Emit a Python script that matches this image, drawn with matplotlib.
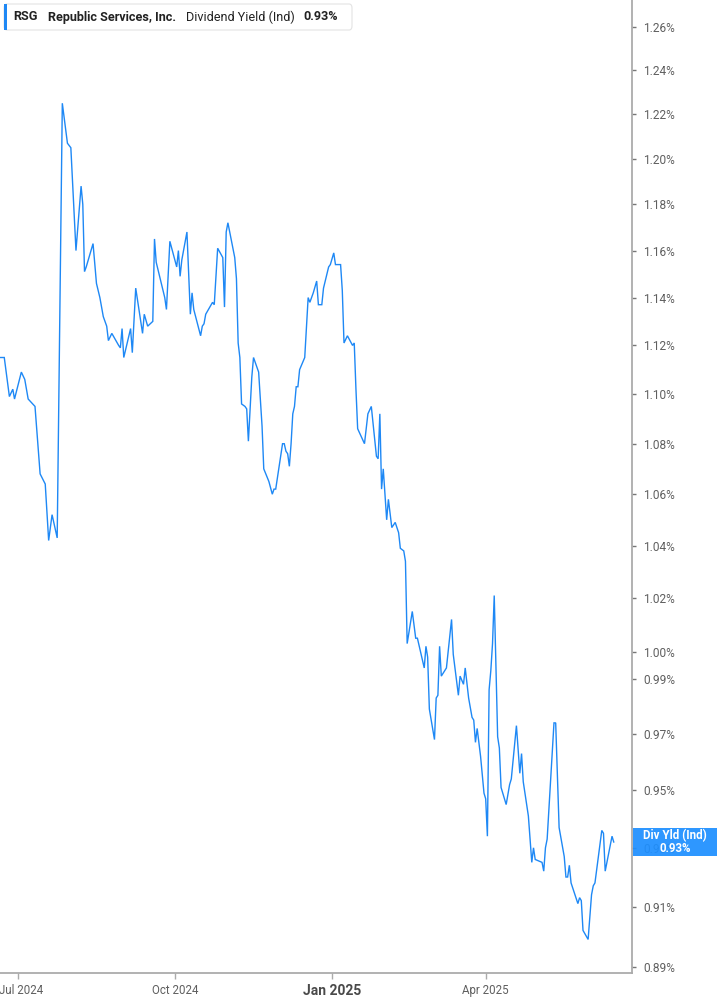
"""RSG dividend yield (indicated) line chart, trailing year."""

import numpy as np
import pandas as pd
import matplotlib

matplotlib.use("Agg")
import matplotlib.pyplot as plt
import matplotlib.dates as mdates
import matplotlib.transforms as mtransforms
from matplotlib.patches import FancyBboxPatch, Rectangle
from matplotlib.ticker import FixedLocator, FixedFormatter, NullLocator

BLUE = "#1E88F5"
BOX_BLUE = "#1E8FFF"
SPINE = "#ABABAB"
TICK_TXT = "#5F5F5F"

dates = [
    "2024-06-20", "2024-06-23", "2024-06-26", "2024-06-28", "2024-06-29", "2024-07-03", "2024-07-05", "2024-07-07", "2024-07-11", "2024-07-14",
    "2024-07-17", "2024-07-19", "2024-07-21", "2024-07-24", "2024-07-27", "2024-07-30", "2024-08-01", "2024-08-04", "2024-08-07", "2024-08-08",
    "2024-08-09", "2024-08-10", "2024-08-14", "2024-08-16", "2024-08-18", "2024-08-20", "2024-08-22", "2024-08-23", "2024-08-25", "2024-08-29",
    "2024-08-30", "2024-08-31", "2024-09-01", "2024-09-05", "2024-09-06", "2024-09-08", "2024-09-12", "2024-09-13", "2024-09-15", "2024-09-18",
    "2024-09-19", "2024-09-20", "2024-09-25", "2024-09-26", "2024-09-28", "2024-10-02", "2024-10-03", "2024-10-04", "2024-10-05", "2024-10-08",
    "2024-10-10", "2024-10-11", "2024-10-12", "2024-10-16", "2024-10-17", "2024-10-18", "2024-10-19", "2024-10-23", "2024-10-24", "2024-10-26",
    "2024-10-29", "2024-10-30", "2024-10-31", "2024-11-01", "2024-11-05", "2024-11-06", "2024-11-07", "2024-11-08", "2024-11-09", "2024-11-11",
    "2024-11-12", "2024-11-13", "2024-11-15", "2024-11-16", "2024-11-19", "2024-11-21", "2024-11-22", "2024-11-25", "2024-11-27", "2024-11-28",
    "2024-11-29", "2024-12-03", "2024-12-04", "2024-12-05", "2024-12-06", "2024-12-07", "2024-12-08", "2024-12-09", "2024-12-10", "2024-12-11",
    "2024-12-12", "2024-12-13", "2024-12-16", "2024-12-18", "2024-12-19", "2024-12-21", "2024-12-23", "2024-12-24", "2024-12-26", "2024-12-27",
    "2024-12-30", "2024-12-31", "2025-01-02", "2025-01-03", "2025-01-06", "2025-01-07", "2025-01-08", "2025-01-10", "2025-01-13", "2025-01-14",
    "2025-01-15", "2025-01-16", "2025-01-20", "2025-01-22", "2025-01-24", "2025-01-27", "2025-01-28", "2025-01-29", "2025-01-30", "2025-01-31",
    "2025-02-02", "2025-02-03", "2025-02-05", "2025-02-07", "2025-02-09", "2025-02-10", "2025-02-12", "2025-02-13", "2025-02-14", "2025-02-17",
    "2025-02-19", "2025-02-20", "2025-02-24", "2025-02-25", "2025-02-26", "2025-02-27", "2025-03-02", "2025-03-03", "2025-03-04", "2025-03-05",
    "2025-03-06", "2025-03-09", "2025-03-12", "2025-03-13", "2025-03-16", "2025-03-17", "2025-03-19", "2025-03-20", "2025-03-22", "2025-03-24",
    "2025-03-25", "2025-03-26", "2025-03-27", "2025-03-29", "2025-03-31", "2025-04-01", "2025-04-02", "2025-04-03", "2025-04-04", "2025-04-05",
    "2025-04-06", "2025-04-08", "2025-04-09", "2025-04-10", "2025-04-13", "2025-04-15", "2025-04-16", "2025-04-19", "2025-04-21", "2025-04-22",
    "2025-04-23", "2025-04-26", "2025-04-28", "2025-04-29", "2025-04-30", "2025-05-04", "2025-05-05", "2025-05-06", "2025-05-07", "2025-05-11",
    "2025-05-12", "2025-05-14", "2025-05-17", "2025-05-18", "2025-05-19", "2025-05-20", "2025-05-21", "2025-05-25", "2025-05-26", "2025-05-27",
    "2025-05-28", "2025-05-31", "2025-06-02", "2025-06-03", "2025-06-04", "2025-06-08", "2025-06-09", "2025-06-10", "2025-06-14", "2025-06-15",
]

div_yield = [
    1.115, 1.115, 1.099, 1.102, 1.098, 1.109, 1.106, 1.098, 1.095, 1.068,
    1.064, 1.042, 1.052, 1.043, 1.225, 1.207, 1.205, 1.160, 1.188, 1.180,
    1.151, 1.153, 1.163, 1.146, 1.140, 1.132, 1.128, 1.122, 1.125, 1.120,
    1.119, 1.127, 1.115, 1.127, 1.117, 1.144, 1.125, 1.133, 1.128, 1.130,
    1.165, 1.155, 1.140, 1.135, 1.164, 1.153, 1.160, 1.149, 1.156, 1.168,
    1.133, 1.142, 1.135, 1.124, 1.128, 1.129, 1.133, 1.138, 1.137, 1.161,
    1.157, 1.136, 1.168, 1.172, 1.157, 1.148, 1.121, 1.115, 1.096, 1.095,
    1.094, 1.081, 1.107, 1.115, 1.109, 1.087, 1.070, 1.065, 1.060, 1.062,
    1.062, 1.080, 1.080, 1.077, 1.076, 1.071, 1.080, 1.092, 1.095, 1.103,
    1.103, 1.110, 1.115, 1.140, 1.138, 1.142, 1.147, 1.137, 1.137, 1.144,
    1.153, 1.154, 1.159, 1.154, 1.154, 1.143, 1.121, 1.124, 1.120, 1.121,
    1.102, 1.086, 1.080, 1.092, 1.095, 1.075, 1.074, 1.092, 1.062, 1.070,
    1.050, 1.058, 1.047, 1.049, 1.045, 1.039, 1.038, 1.034, 1.003, 1.015,
    1.005, 1.005, 0.994, 1.002, 0.998, 0.979, 0.968, 0.983, 0.984, 1.002,
    0.991, 0.994, 1.012, 0.999, 0.984, 0.991, 0.988, 0.994, 0.983, 0.976,
    0.975, 0.967, 0.972, 0.962, 0.949, 0.947, 0.934, 0.986, 0.993, 1.003,
    1.021, 0.969, 0.965, 0.951, 0.945, 0.952, 0.954, 0.973, 0.956, 0.963,
    0.953, 0.941, 0.925, 0.930, 0.926, 0.925, 0.922, 0.930, 0.933, 0.974,
    0.974, 0.937, 0.927, 0.920, 0.920, 0.924, 0.918, 0.911, 0.913, 0.912,
    0.902, 0.899, 0.914, 0.917, 0.918, 0.936, 0.935, 0.922, 0.934, 0.932,
]

ytick_vals = [1.26, 1.24, 1.22, 1.20, 1.18, 1.16, 1.14, 1.12, 1.10, 1.08, 1.06, 1.04, 1.02,
              1.00, 0.99, 0.97, 0.95, 0.93, 0.91, 0.89]
xtick_dates = ["2024-07-01", "2024-10-01", "2025-01-01", "2025-04-01"]
xtick_labels = ["Jul 2024", "Oct 2024", "Jan 2025", "Apr 2025"]

W, H = 717, 1005
fig = plt.figure(figsize=(W / 100, H / 100), dpi=100)
ax = fig.add_axes([0, 1 - 973 / H, 632 / W, 973 / H])

s = pd.Series(div_yield, index=pd.to_datetime(dates))
ax.plot(s.index, s.values, color=BLUE, lw=1.0, solid_joinstyle="miter")

ax.set_yscale("log")
ax.set_ylim(0.8879, 1.2727)
start = pd.Timestamp("2024-07-01")
ax.set_xlim(start - pd.Timedelta(days=10.5), start + pd.Timedelta(days=359.7))

ax.yaxis.tick_right()
ax.yaxis.set_major_locator(FixedLocator(ytick_vals))
ax.yaxis.set_major_formatter(FixedFormatter([f"{v:.2f}%" for v in ytick_vals]))
ax.yaxis.set_minor_locator(NullLocator())
ax.tick_params(axis="y", direction="out", length=3, width=1, color="#777777",
               labelsize=8.6, labelcolor=TICK_TXT, pad=5)
for lab in ax.get_yticklabels():
    lab.set_family(["Roboto", "DejaVu Sans"])

ax.set_xticks(pd.to_datetime(xtick_dates))
ax.set_xticklabels(xtick_labels)
ax.tick_params(axis="x", direction="out", length=4, width=1, color=SPINE,
               labelsize=8.3, labelcolor=TICK_TXT, pad=4)
nudge = mtransforms.ScaledTranslation(2 / 72, 0, fig.dpi_scale_trans)
for lab in ax.get_xticklabels():
    lab.set_family(["Liberation Sans Narrow", "Roboto"])
    if lab.get_text() == "Jul 2024":
        lab.set_transform(lab.get_transform() + nudge)
    if lab.get_text() == "Jan 2025":
        lab.set_fontweight("bold")
        lab.set_fontsize(10)
        lab.set_color("#4A4A4A")

for side in ["top", "left"]:
    ax.spines[side].set_visible(False)
for side in ["right", "bottom"]:
    ax.spines[side].set_color(SPINE)
    ax.spines[side].set_linewidth(1.3)

# last-value tag on the right axis
last = s.values[-1]
ypix = ax.transData.transform((mdates.date2num(s.index[-1]), last))[1]
tag_h = 28
fig.patches.append(Rectangle((633 / W, (ypix - tag_h / 2) / H), (W - 633) / W, tag_h / H,
                             transform=fig.transFigure, facecolor=BOX_BLUE, edgecolor="none",
                             alpha=0.93, zorder=5))
fig.text(675 / W, (ypix + 6.5) / H, "Div Yld (Ind)", color="white", fontsize=8.3,
         fontweight="bold", ha="center", va="center", family=["Roboto", "DejaVu Sans"], zorder=6)
fig.text(675 / W, (ypix - 6.5) / H, f"{last:.2f}%", color="white", fontsize=8.3,
         fontweight="bold", ha="center", va="center", family=["Roboto", "DejaVu Sans"], zorder=6)

# legend header
fig.patches.append(FancyBboxPatch((4 / W, 1 - 30 / H), 348 / W, 26 / H,
                                  boxstyle="round,pad=0,rounding_size=0.004",
                                  transform=fig.transFigure, facecolor="white",
                                  edgecolor="#E3E3E3", linewidth=0.8, zorder=5))
fig.patches.append(Rectangle((4 / W, 1 - 30 / H), 3 / W, 26 / H, transform=fig.transFigure,
                             facecolor=BLUE, edgecolor="none", zorder=6))
ty = 1 - 17 / H
hdr = dict(fontsize=9.1, color="#222222", va="center", ha="left",
           family=["Roboto", "DejaVu Sans"], zorder=7)
fig.text(13 / W, ty, "RSG", fontweight="bold", **hdr)
fig.text(48 / W, ty, "Republic Services, Inc.", fontweight="bold", **hdr)
fig.text(186 / W, ty, "Dividend Yield (Ind)", **hdr)
fig.text(303 / W, ty, f"{last:.2f}%", fontweight="bold", **hdr)

fig.savefig("out.png", dpi=100)
